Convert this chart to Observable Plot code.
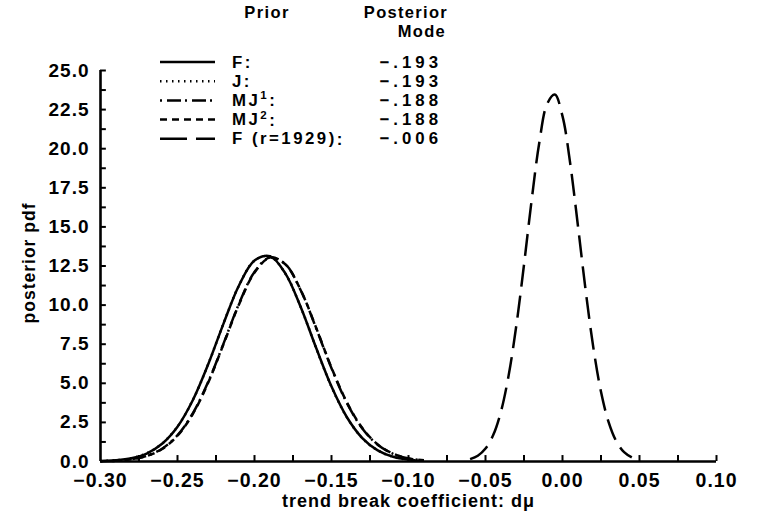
<!DOCTYPE html>
<html>
<head>
<meta charset="utf-8">
<script src="https://cdn.jsdelivr.net/npm/d3@7"></script>
<script src="https://cdn.jsdelivr.net/npm/@observablehq/plot@0.6"></script>
<style>
  body { margin: 0; background: #fff; }
  #chart { position: relative; width: 774px; height: 525px; }
  #chart svg { position: absolute; left: 0; top: 0; }
  #legend text { font-family: "Liberation Sans", Arial, sans-serif; font-weight: bold; fill: #000; }
</style>
</head>
<body>
<div id="chart"></div>
<script>
// Grid of the trend break coefficient for the four priors estimated on the full sample
const gridMain = [-0.30, -0.29, -0.28, -0.27, -0.26, -0.25, -0.24, -0.23, -0.22, -0.21, -0.20,
                  -0.19, -0.18, -0.17, -0.16, -0.15, -0.14, -0.13, -0.12, -0.11, -0.10, -0.09];
const pdfF   = [0.03, 0.08, 0.21, 0.51, 1.13, 2.22, 3.93, 6.23, 8.85, 11.27, 12.85,
                13.13, 12.03, 9.88, 7.27, 4.79, 2.83, 1.50, 0.71, 0.30, 0.12, 0.04];
const pdfJ   = [0.03, 0.08, 0.21, 0.52, 1.14, 2.23, 3.94, 6.24, 8.86, 11.27, 12.85,
                13.12, 12.02, 9.87, 7.26, 4.78, 2.82, 1.49, 0.71, 0.30, 0.11, 0.04];
const pdfMJ1 = [0.02, 0.05, 0.15, 0.36, 0.82, 1.68, 3.09, 5.10, 7.57, 10.10, 12.12,
                13.05, 12.62, 10.95, 8.53, 5.96, 3.74, 2.11, 1.07, 0.49, 0.19, 0.07];
const pdfMJ2 = [0.02, 0.05, 0.14, 0.35, 0.80, 1.65, 3.05, 5.06, 7.53, 10.06, 12.08,
                13.02, 12.61, 10.96, 8.56, 6.00, 3.78, 2.14, 1.09, 0.50, 0.20, 0.08];

// Flat prior with the break date fixed at 1929
const grid1929 = [-0.060, -0.055, -0.050, -0.045, -0.040, -0.035, -0.030, -0.025, -0.020, -0.015,
                  -0.010, -0.005, 0.000, 0.005, 0.010, 0.015, 0.020, 0.025, 0.030, 0.035, 0.040, 0.045];
const pdfF1929 = [0.15, 0.37, 0.83, 1.69, 3.18, 5.49, 8.68, 12.58, 16.74, 20.43,
                  22.86, 23.46, 22.08, 19.06, 15.09, 10.96, 7.30, 4.46, 2.50, 1.28, 0.60, 0.26];

// Legend entries: name, optional superscript, posterior mode
const priorNames = ["F", "J", "MJ", "MJ", "F (r=1929)"];
const priorSups = [null, null, "1", "2", null];
const posteriorModes = ["\u2212.193", "\u2212.193", "\u2212.188", "\u2212.188", "\u2212.006"];
const dashes = [null, "1.5,4.5", "2,5,14,4", "7,5", "27,9"];

// Axis ticks
const xTickLabels = [-0.30, -0.25, -0.20, -0.15, -0.10, -0.05, 0.00, 0.05, 0.10];
const xTickMarks = [-0.275, -0.25, -0.225, -0.20, -0.175, -0.15, -0.125, -0.10, -0.075,
                    -0.05, -0.025, 0.00, 0.025, 0.05, 0.075, 0.10];
const yTickLabels = [0, 2.5, 5, 7.5, 10, 12.5, 15, 17.5, 20, 22.5, 25];
const yTickMarks = [1.25, 2.5, 3.75, 5, 6.25, 7.5, 8.75, 10, 11.25, 12.5, 13.75, 15,
                    16.25, 17.5, 18.75, 20, 21.25, 22.5, 23.75, 25];

const font = '"Liberation Sans", Arial, sans-serif';
const lw = 2.5;

const curve = (xs, ys, dash) => Plot.line(xs, {
  x: d => d,
  y: (d, i) => ys[i],
  curve: "catmull-rom",
  stroke: "#000",
  strokeWidth: lw,
  strokeLinecap: "butt",
  strokeDasharray: dash
});

const plot = Plot.plot({
  width: 774,
  height: 525,
  marginLeft: 100,
  marginRight: 58,
  marginTop: 70,
  marginBottom: 64,
  x: {domain: [-0.30, 0.10]},
  y: {domain: [0, 25]},
  style: {fontFamily: font, fontWeight: "bold", color: "#000", background: "#fff", overflow: "visible", letterSpacing: "1px"},
  marks: [
    Plot.axisX(xTickLabels, {tickSize: 0, tickPadding: 12, tickFormat: d3.format(".2f"), label: null, fontSize: 19.5}),
    Plot.axisY(yTickLabels, {tickSize: 0, tickPadding: 11, tickFormat: d3.format(".1f"), label: null, fontSize: 19}),
    Plot.text(["trend break coefficient: d\u03bc"], {frameAnchor: "bottom", dy: 45, fontSize: 18}),
    Plot.text(["posterior pdf"], {frameAnchor: "left", textAnchor: "middle", dx: -71, dy: -3, rotate: -90, fontSize: 17.5}),
    Plot.ruleX(xTickMarks, {y1: 0, y2: 0.38, strokeWidth: 2}),
    Plot.ruleY(yTickMarks, {x1: -0.30, x2: -0.2962, strokeWidth: 2}),
    Plot.ruleY([0], {strokeWidth: 2.6}),
    Plot.ruleX([-0.30], {strokeWidth: 2.6}),
    curve(gridMain, pdfF, null),
    curve(gridMain, pdfJ, dashes[1]),
    curve(gridMain, pdfMJ1, dashes[2]),
    curve(gridMain, pdfMJ2, dashes[3]),
    curve(grid1929, pdfF1929, "22,9")
  ]
});

const chart = document.getElementById("chart");
chart.appendChild(plot);

// Legend: prior name, line style and posterior mode
const legend = d3.select(chart).append("svg")
  .attr("id", "legend")
  .attr("width", 774)
  .attr("height", 160)
  .style("pointer-events", "none");

legend.append("text").attr("x", 267).attr("y", 12).attr("text-anchor", "middle")
  .attr("dominant-baseline", "central").attr("font-size", 16.5).attr("letter-spacing", 1.4).text("Prior");
legend.append("text").attr("x", 448).attr("y", 12).attr("text-anchor", "end")
  .attr("dominant-baseline", "central").attr("font-size", 16.5).attr("letter-spacing", 1.3).text("Posterior");
legend.append("text").attr("x", 446).attr("y", 31).attr("text-anchor", "end")
  .attr("dominant-baseline", "central").attr("font-size", 16.5).attr("letter-spacing", 1.3).text("Mode");

const rowY = i => 62 + i * 19.2;
priorNames.forEach((name, i) => {
  const y = rowY(i);
  legend.append("line").attr("x1", 160).attr("x2", 215).attr("y1", y).attr("y2", y)
    .attr("stroke", "#000").attr("stroke-width", lw)
    .attr("stroke-dasharray", dashes[i]);
  const t = legend.append("text").attr("x", 232).attr("y", y).attr("dominant-baseline", "central")
    .attr("font-size", 16.8).attr("letter-spacing", 2.5).text(name);
  if (priorSups[i]) {
    t.append("tspan").attr("font-size", 11.5).attr("dy", -5).text(priorSups[i]);
    t.append("tspan").attr("dy", 5).text(":");
  } else {
    t.append("tspan").text(":");
  }
  legend.append("text").attr("x", 442).attr("y", y).attr("text-anchor", "end")
    .attr("dominant-baseline", "central").attr("font-size", 16.8).attr("letter-spacing", 4)
    .text(posteriorModes[i]);
});
</script>
</body>
</html>
